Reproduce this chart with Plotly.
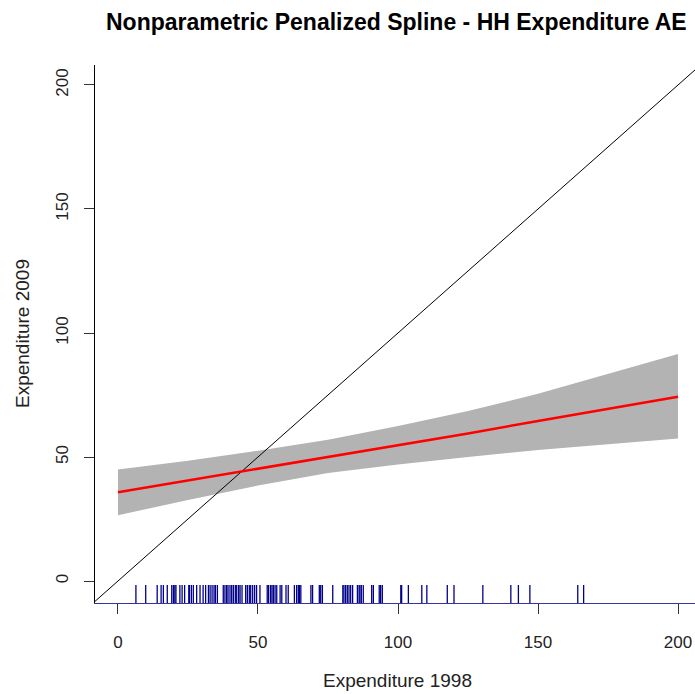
import plotly.graph_objects as go

# ---- data ----
fit_x = [0, 25, 50, 75, 100, 125, 150, 175, 200]
fit_y = [35.8, 40.5, 45.3, 50.0, 54.8, 59.5, 64.5, 69.3, 74.3]
band_upper = [45.0, 48.5, 52.5, 57.0, 62.5, 68.5, 75.5, 83.5, 91.5]
band_lower = [26.5, 32.7, 38.5, 43.5, 47.0, 50.0, 52.8, 55.2, 57.5]

rug_x = [6.4, 9.9, 14.0, 15.4, 16.2, 17.6, 19.2, 19.8, 20.3, 20.7, 22.1, 22.9,
         23.8, 25.3, 25.5, 26.2, 26.9, 28.1, 29.3, 30.4, 31.3, 32.3, 32.9, 33.6,
         34.3, 34.8, 35.5, 37.6, 38.2, 38.8, 39.3, 40.0, 40.6, 41.2, 41.9, 42.4,
         43.1, 43.6, 44.3, 45.6, 46.2, 46.9, 47.4, 48.1, 48.8, 49.5, 50.7, 53.3,
         53.8, 54.5, 55.0, 55.5, 56.1, 56.7, 57.9, 58.5, 60.0, 60.8, 63.0, 63.8,
         64.4, 64.8, 65.3, 68.9, 69.5, 71.9, 72.4, 73.0, 76.7, 80.3, 80.7, 81.3,
         81.9, 82.5, 83.1, 83.8, 85.5, 86.1, 86.4, 86.9, 87.6, 90.6, 91.2, 93.3,
         93.8, 94.4, 101.0, 101.3, 103.7, 108.5, 110.3, 117.6, 120.0, 130.3,
         140.3, 143.0, 147.1, 164.2, 166.3]

x_ticks = [0, 50, 100, 150, 200]
y_ticks = [0, 50, 100, 150, 200]

title_text = "Nonparametric Penalized Spline - HH Expenditure AE"
x_title = "Expenditure 1998"
y_title = "Expenditure 2009"

# ---- geometry ----
X_RANGE = [-8.21, 206.07]
Y_RANGE = [-8.87, 208.06]
RUG_TOP = -1.6

FONT = "Liberation Sans, Arial, sans-serif"

fig = go.Figure()

# confidence band
fig.add_trace(go.Scatter(
    x=fit_x + fit_x[::-1],
    y=band_upper + band_lower[::-1],
    fill="toself", fillcolor="#b3b3b3",
    line=dict(width=0, color="#b3b3b3"),
    mode="lines", hoverinfo="skip", showlegend=False))

# identity line
fig.add_trace(go.Scatter(
    x=[-20, 230], y=[-20, 230], mode="lines",
    line=dict(color="black", width=1), showlegend=False, hoverinfo="skip"))

# fitted line
fig.add_trace(go.Scatter(
    x=fit_x, y=fit_y, mode="lines",
    line=dict(color="red", width=2.5), showlegend=False))

# rug
rx, ry = [], []
for v in rug_x:
    rx += [v, v, None]
    ry += [Y_RANGE[0], RUG_TOP, None]
fig.add_trace(go.Scatter(
    x=rx, y=ry, mode="lines", line=dict(color="#00008b", width=1.3),
    showlegend=False, hoverinfo="skip"))

fig.update_layout(
    width=695, height=694,
    margin=dict(l=95, r=0, t=65, b=91),
    plot_bgcolor="white", paper_bgcolor="white",
    font=dict(family=FONT, size=17, color="#222"),
    showlegend=False,
    xaxis=dict(range=X_RANGE, tickvals=x_ticks, ticks="outside", ticklen=10,
               tickcolor="#333", tickwidth=1, showgrid=False, zeroline=False,
               showline=True, linecolor="#3535a0", linewidth=1.3,
               ticklabelstandoff=13, tickfont=dict(size=17, color="#222")),
    yaxis=dict(range=Y_RANGE, tickvals=y_ticks, ticks="outside", ticklen=10,
               tickcolor="#333", tickwidth=1, showgrid=False, zeroline=False,
               showline=True, linecolor="black", linewidth=1,
               tickangle=-90, ticklabelstandoff=9,
               tickfont=dict(size=17, color="#222")),
    annotations=[
        dict(text="<b>" + title_text + "</b>", x=396, y=694 - 22,
             xref="paper", yref="paper", showarrow=False,
             font=dict(size=23, color="black", family=FONT)),
        dict(text=x_title, x=397, y=694 - 680, xref="paper", yref="paper",
             showarrow=False, font=dict(size=19, color="#222", family=FONT)),
        dict(text=y_title, x=22, y=694 - 334, xref="paper", yref="paper",
             showarrow=False, textangle=-90,
             font=dict(size=19, color="#222", family=FONT)),
    ],
)

# convert pixel positions for annotations to paper coords
pw = 695 - 95 - 0
ph = 694 - 65 - 91
for a in fig.layout.annotations:
    a.x = (a.x - 95) / pw
    a.y = (a.y - 91) / ph
    a.xanchor = "center"
    a.yanchor = "middle"

fig.write_html("out.html")
